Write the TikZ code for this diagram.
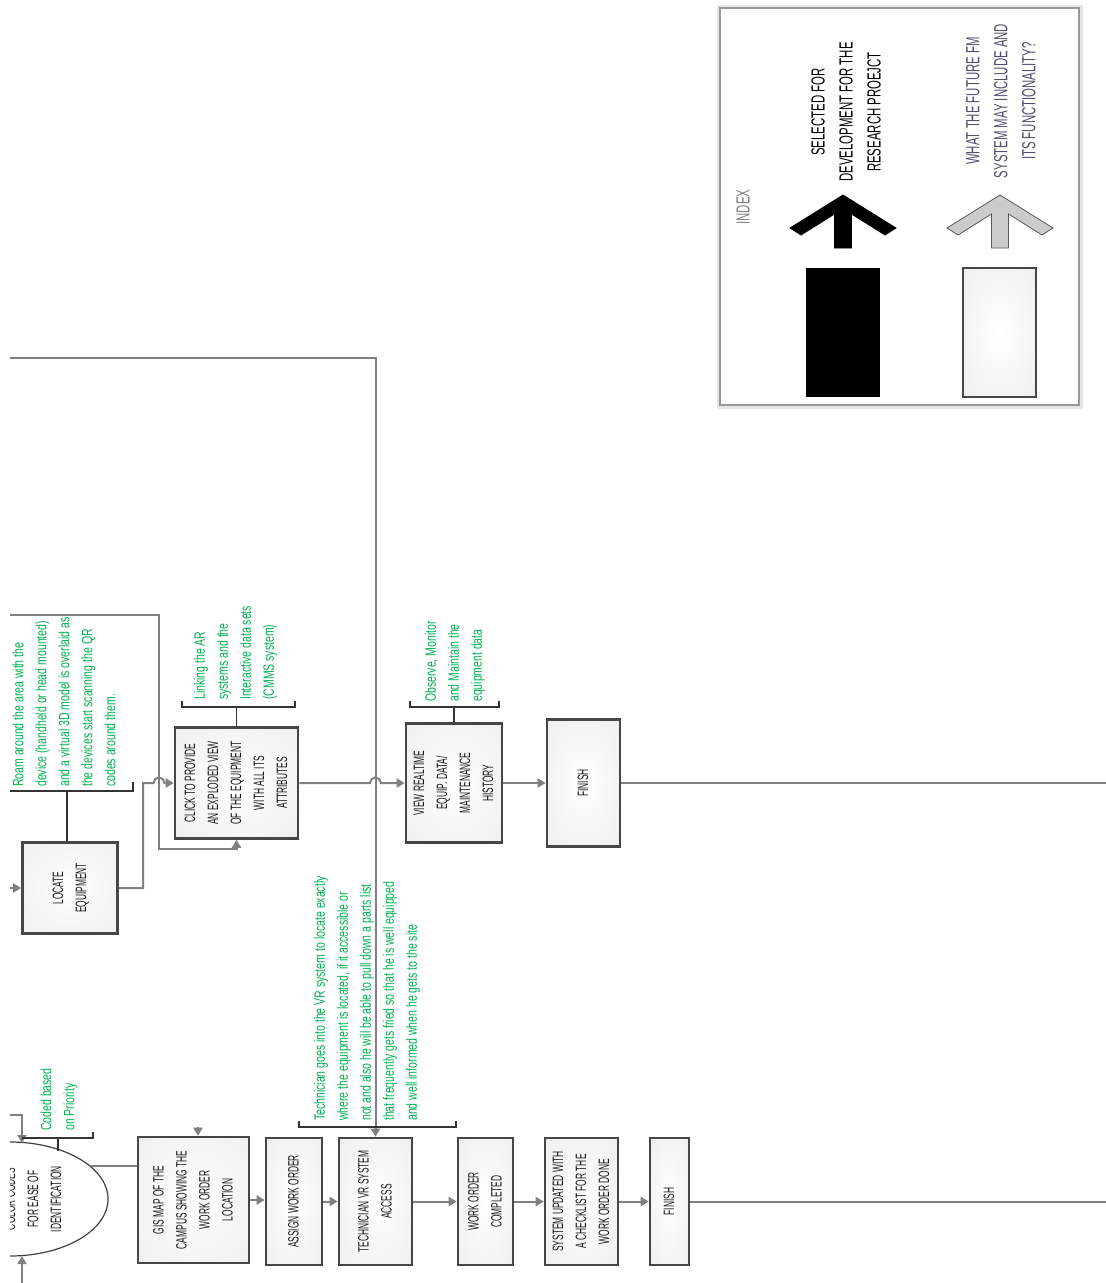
\documentclass[tikz,border=0pt]{standalone}
\usepackage{fontspec}
\setmainfont{Liberation Sans}
\newfontfamily\boxfont[FakeStretch=0.56]{Liberation Sans}
\newfontfamily\notefont[FakeStretch=0.7]{Liberation Sans}
\newfontfamily\legendfont[FakeStretch=0.6]{Liberation Sans}
\definecolor{NoteGreen}{RGB}{0,176,80}
\definecolor{LineGrey} {RGB}{128,128,128}
\definecolor{RimGrey}  {RGB}{70,70,70}
\definecolor{FutureInk}{RGB}{80,80,110}
\usetikzlibrary{arrows.meta,shapes.geometric,calc}
\pgfdeclareradialshading{boxglow}{\pgfpoint{0bp}{0bp}}{color(0bp)=(white); color(34bp)=(white!94!black); color(44bp)=(white!75!black); color(50bp)=(white!45!black)}
\newcommand{\vtext}[1]{\rotatebox{90}{\begin{tabular}{@{}c@{}}#1\end{tabular}}}

\begin{document}
\begin{tikzpicture}[x=1pt,y=-1pt,every node/.style={inner sep=0pt},
  box/.style n args={2}{draw=RimGrey,line width=2.6pt,shading=boxglow,
    minimum width=#1,minimum height=#2,text=black!90,
    font=\boxfont\fontsize{15}{23}\selectfont},
  note/.style={text=NoteGreen,rotate=90,align=left,anchor=west,
    font=\notefont\fontsize{15}{23}\selectfont},
  flow/.style={draw=LineGrey,line width=2pt},
  arr/.style={flow,-{Triangle[length=8pt,width=9pt]}},
  brace/.style={draw=black!80,line width=1.4pt},
  legendtxt/.style={rotate=90,align=center,font=\legendfont\fontsize{19}{28}\selectfont}]
  \useasboundingbox (0,0) rectangle (1106,1283);

  % index panel
  \node[draw=black!40,line width=1.4pt,fill=white,minimum width=359pt,minimum height=397pt,
        preaction={draw=black!10,line width=7pt}] (index) at (899.5,206.5) {};
  \node[legendtxt,text=black!50] (indexLbl) at (743,207) {INDEX};
  \node[legendtxt] (selTxt) at (846,112) {SELECTED FOR\\DEVELOPMENT FOR THE\\RESEARCH PROEJCT};
  \node[legendtxt,text=FutureInk] (futTxt) at (1001,101) {WHAT THE FUTURE FM\\SYSTEM MAY INCLUDE AND\\ITS FUNCTIONALITY?};
  \foreach \x/\fc/\dc in {843/black/black,1000/black!20/black!65}
    \filldraw[fill=\fc,draw=\dc,line width=0.8pt]
      (\x,195) -- ++(53,33) -- ++(-11,7) -- ++(-33.5,-21) -- ++(0,34) -- ++(-17,0)
      -- ++(0,-34) -- ++(-33.5,21) -- ++(-11,-7) -- cycle;
  \node[fill=black,minimum width=74pt,minimum height=129pt] (selSwatch) at (843,332.5) {};
  \node[box={73pt}{129pt}] (futSwatch) at (999.5,332.5) {};

  % upper flow
  \node[box={95pt}{91pt}]   (locate)   at (70,888)    {\vtext{LOCATE\\EQUIPMENT}};
  \node[box={123pt}{111pt}] (explode)  at (236.5,783) {\vtext{CLICK TO PROVIDE\\AN EXPLODED VIEW\\OF THE EQUIPMENT\\WITH ALL ITS\\ATTRIBUTES}};
  \node[box={96pt}{119pt}]  (realtime) at (454,783)   {\vtext{VIEW REALTIME\\EQUIP. DATA/\\MAINTENANCE\\HISTORY}};
  \node[box={73pt}{127pt}]  (finishA)  at (583.5,783) {\vtext{FINISH}};

  \node[note] (roamNote)    at (64,787)  {Roam around the area with the\\device (handheld or head mounted)\\and a virtual 3D model is overlaid as\\the devices start scanning the QR\\codes around them.};
  \node[note] (linkNote)    at (235.5,700) {Linking the AR\\systems and the\\Interactive data sets\\(CMMS system)};
  \node[note] (observeNote) at (455,702) {Observe, Monitor\\and Maintain the\\equipment data};

  % lower flow
  \node[box={111pt}{126pt}] (gis)       at (193.5,1200)  {\vtext{GIS MAP OF THE\\CAMPUS SHOWING THE\\WORK ORDER\\LOCATION}};
  \node[box={56pt}{127pt}]  (assign)    at (294,1201.5)  {\vtext{ASSIGN WORK ORDER}};
  \node[box={73pt}{127pt}]  (techvr)    at (375.5,1201.5){\vtext{TECHNICIAN VR SYSTEM\\ACCESS}};
  \node[box={55pt}{127pt}]  (woDone)    at (485.5,1201.5){\vtext{WORK ORDER\\COMPLETED}};
  \node[box={73pt}{127pt}]  (checklist) at (581.5,1201.5){\vtext{SYSTEM UPDATED WITH\\A CHECKLIST FOR THE\\WORK ORDER DONE}};
  \node[box={39pt}{127pt}]  (finishB)   at (669.5,1201.5){\vtext{FINISH}};

  \node[note] (codedNote) at (59,1131) {Coded based\\on Priority};
  \node[note] (techNote)  at (367,1121) {Technician goes into the VR system to locate exactly\\where the equipment is located, if it accessible or\\not and also he will be able to pull down a parts list\\that frequently gets fried so that he is well equipped\\and well informed when he gets to the site};

  \begin{scope}
    \clip (10,1090) rectangle (200,1283);
    \node[ellipse,draw=black!75,line width=1.2pt,minimum width=196pt,minimum height=114pt] (colour) at (10,1199) {};
    \node[rotate=90,align=center,text=black!90,font=\boxfont\fontsize{15}{23}\selectfont] (colourTxt) at (33,1199) {COLOR CODES\\FOR EASE OF\\IDENTIFICATION};
  \end{scope}

  % feeds and bends
  \coordinate (vrFeed)   at (10,358);
  \coordinate (roamFeed) at (10,615);
  \coordinate (roamTurn) at (159,849);
  \coordinate (locFeed)  at (10,888);
  \coordinate (bendA)    at (143,783);
  \coordinate (outA)     at (1106,783);
  \coordinate (outB)     at (1106,1201.5);
  \coordinate (topFeed)  at (10,1115);
  \coordinate (topHit)   at (22,1143);
  \coordinate (botFeed)  at (22,1283);
  \coordinate (botHit)   at (22,1256);
  \coordinate (gisFeed)  at (198,1127);
  \coordinate (roamTie)  at (67,791);
  \coordinate (codedTie) at (58,1138);
  \coordinate (codedHit) at (58,1151);

  % connectors
  \draw[arr] (vrFeed) -| (techvr.north);
  \draw[arr] (roamFeed) -| (roamTurn) -| (explode.south);
  \draw[arr] (locFeed) -- (locate.west);
  \draw[arr] (locate.east) -| (bendA) -- ($(bendA -| roamTurn)+(-5.5,0)$)
    arc[start angle=180,end angle=360,radius=5.5] -- (explode.west);
  \draw[arr] (explode.east) -- ($(explode.east -| techvr.north)+(-5.5,0)$)
    arc[start angle=180,end angle=360,radius=5.5] -- (realtime.west);
  \draw[arr] (realtime) -- (finishA);
  \draw[flow] (finishA.east) -- (outA);

  \draw[arr] (topFeed) -| (topHit);
  \draw[arr] (botFeed) -- (botHit);
  \draw[flow] (colour.22) -- (colour.22 -| gis.west);
  \draw[arr] (gisFeed) -- (gisFeed |- gis.north);
  \draw[arr] (gis) -- (gis.east -| assign.west);
  \draw[arr] (assign) -- (techvr);
  \draw[arr] (techvr) -- (woDone);
  \draw[arr] (woDone) -- (checklist);
  \draw[arr] (checklist) -- (finishB);
  \draw[flow] (finishB.east) -- (outB);

  % brackets
  \draw[brace] (10,791) -- (133,791) -- (133,782);
  \draw[brace] (roamTie) -- (roamTie |- locate.north);
  \draw[brace] (182,701) -- (182,707) -- (295,707) -- (295,701);
  \draw[brace] (explode.north) -- (explode.north |- 0,707);
  \draw[brace] (410,701) -- (410,707) -- (499,707) -- (499,701);
  \draw[brace] (realtime.north) -- (realtime.north |- 0,707);
  \draw[brace] (299,1121) -- (299,1127) -- (456,1127) -- (456,1121);
  \draw[brace] (topHit |- codedTie) -- (93,1138) -- (93,1132);
  \draw[brace] (codedTie) -- (codedHit);
\end{tikzpicture}
\end{document}
